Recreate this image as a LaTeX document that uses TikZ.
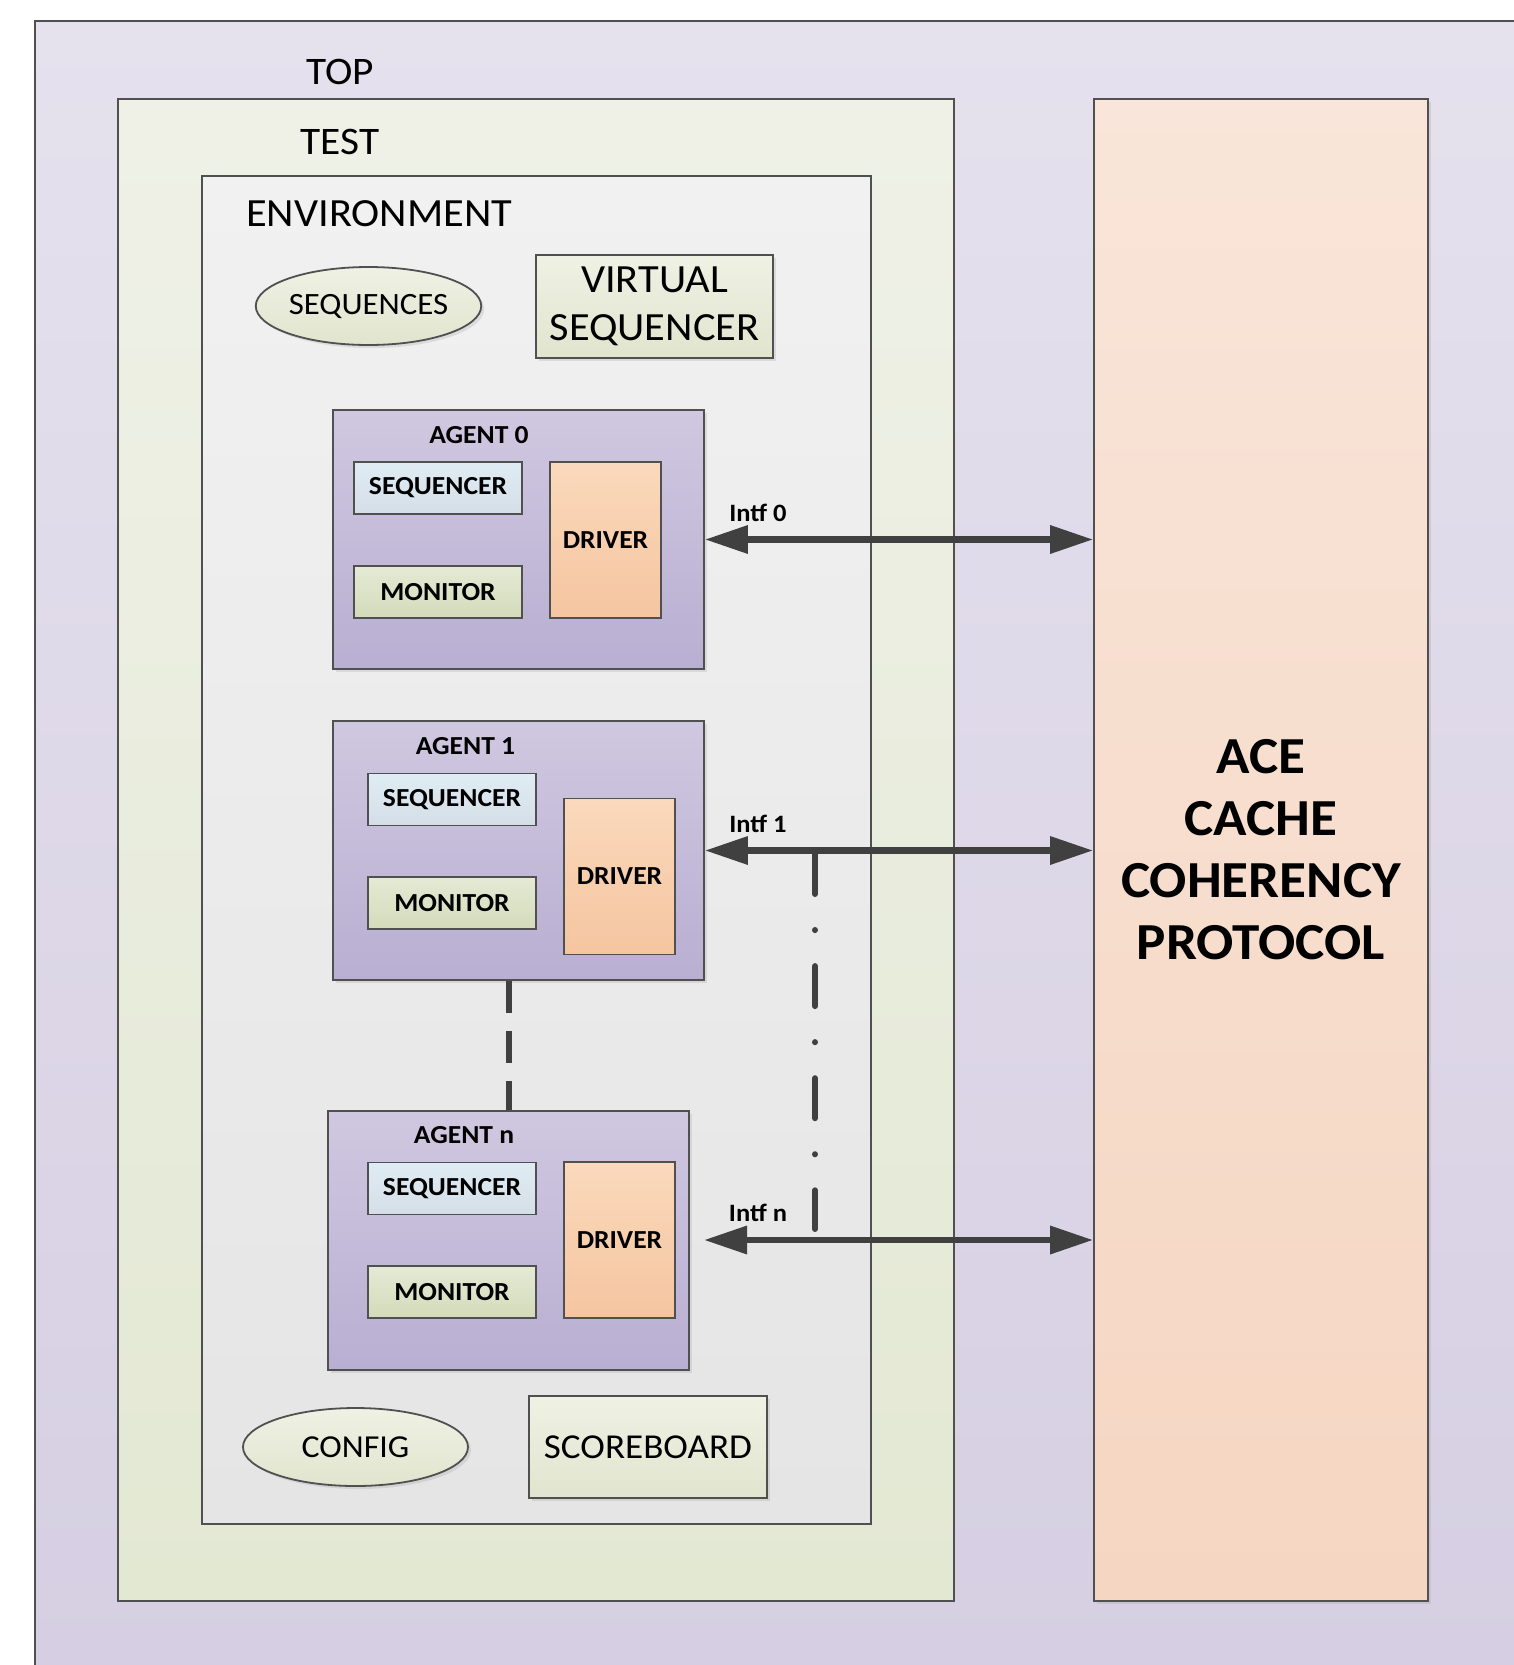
\documentclass[tikz,border=0pt]{standalone}
\usepackage{fontspec}
\setmainfont{Carlito}[FakeStretch=1.06]
\usetikzlibrary{arrows.meta,shadows,shapes.geometric}
\definecolor{bordc}{HTML}{505050}
\definecolor{arrc}{HTML}{404040}
\definecolor{outT}{HTML}{E5E1ED}
\definecolor{outB}{HTML}{D6CFE3}
\definecolor{testT}{HTML}{EFF1E7}
\definecolor{testB}{HTML}{E3E8D3}
\definecolor{envT}{HTML}{F1F1F1}
\definecolor{envB}{HTML}{E5E5E5}
\definecolor{agT}{HTML}{D0C8E0}
\definecolor{agB}{HTML}{B8AFD2}
\definecolor{seqT}{HTML}{E0ECF4}
\definecolor{seqB}{HTML}{D4DEE6}
\definecolor{monT}{HTML}{E4EAD4}
\definecolor{monB}{HTML}{D3DBBA}
\definecolor{drvT}{HTML}{FAD9BC}
\definecolor{drvB}{HTML}{F5C5A0}
\definecolor{aceT}{HTML}{F9E5D9}
\definecolor{aceB}{HTML}{F5D6C2}
\definecolor{grnT}{HTML}{EFF1E4}
\definecolor{grnB}{HTML}{E1E5CE}
\newcommand\fsz[2]{\fontsize{#1}{#2}\selectfont}
\begin{document}
\begin{tikzpicture}[x=1pt,y=-1pt,
  bx/.style={draw=bordc, line width=1.8pt, inner sep=0pt, align=center},
  shd/.style={drop shadow={shadow xshift=3pt, shadow yshift=-3pt, opacity=0.18}},
  testbox/.style={bx, top color=testT, bottom color=testB},
  envbox/.style={bx, top color=envT, bottom color=envB},
  agentbox/.style={bx, shd, top color=agT, bottom color=agB, minimum width=371pt, minimum height=259pt},
  seqbox/.style={bx, top color=seqT, bottom color=seqB, minimum width=168pt, minimum height=52pt, font=\fsz{26}{30}\bfseries},
  monbox/.style={bx, top color=monT, bottom color=monB, minimum width=168pt, minimum height=52pt, font=\fsz{26}{30}\bfseries},
  drvbox/.style={bx, top color=drvT, bottom color=drvB, minimum width=111pt, minimum height=156pt, font=\fsz{26}{30}\bfseries},
  grnbox/.style={bx, shd, top color=grnT, bottom color=grnB},
  oval/.style={bx, shd, ellipse, top color=grnT, bottom color=grnB},
  lbl/.style={inner sep=0pt, text=black},
  aglbl/.style={inner sep=0pt, font=\fsz{26}{30}\bfseries},
  intf/.style={inner sep=0pt, font=\fsz{25}{30}\bfseries},
  biarrow/.style={draw=arrc, line width=6.5pt, {Triangle[length=43pt,width=27pt]}-{Triangle[length=43pt,width=27pt]}},
  dashline/.style={draw=arrc, line width=6pt, dash pattern=on 32pt off 18pt},
  ddline/.style={draw=arrc, line width=6pt, line cap=round, dash pattern=on 40pt off 36pt on 0.1pt off 36pt}
]
\useasboundingbox (0,0) rectangle (1514,1665);
\fill[white] (0,0) rectangle (1514,1665);
% outer TOP background
\path[top color=outT, bottom color=outB] (35,21) rectangle (1514,1665);
\draw[bordc, line width=1.8pt] (35,1665) -- (35,21) -- (1514,21);

% TEST and ENVIRONMENT
\node[testbox, minimum width=836pt, minimum height=1502pt] (test) at (536,850) {};
\node[envbox, minimum width=669pt, minimum height=1348pt] (env) at (536.5,850) {};
\node[lbl, font=\fsz{39}{47}] (toplbl) at (340,72) {TOP};
\node[lbl, font=\fsz{39}{47}] (testlbl) at (340,142) {TEST};
\node[lbl, anchor=west, font=\fsz{40}{48}] (envlbl) at (246,214) {ENVIRONMENT};

% sequences / virtual sequencer
\node[oval, minimum width=223pt, minimum height=78pt, font=\fsz{31}{36}] (seqs) at (368.5,306) {SEQUENCES};
\node[grnbox, minimum width=237pt, minimum height=103pt, font=\fsz{40}{48}] (vseq) at (654.5,306.5) {VIRTUAL\\SEQUENCER};

% AGENT 0
\node[agentbox] (agent0) at (518.5,539.5) {};
\node[aglbl] (ag0lbl) at (479,435) {AGENT 0};
\node[seqbox] (seq0) at (438,488) {SEQUENCER};
\node[monbox] (mon0) at (438,592) {MONITOR};
\node[drvbox] (drv0) at (605.5,540) {DRIVER};

% AGENT 1
\node[agentbox] (agent1) at (518.5,850.5) {};
\node[aglbl] (ag1lbl) at (465.5,746) {AGENT 1};
\node[seqbox] (seq1) at (452,799.5) {SEQUENCER};
\node[monbox] (mon1) at (452,903) {MONITOR};
\node[drvbox] (drv1) at (619.5,876.5) {DRIVER};

% AGENT n
\node[agentbox, minimum width=361pt] (agentn) at (508.5,1240.5) {};
\node[aglbl] (agnlbl) at (464,1135) {AGENT n};
\node[seqbox] (seqn) at (452,1188.5) {SEQUENCER};
\node[monbox] (monn) at (452,1292) {MONITOR};
\node[drvbox] (drvn) at (619.5,1240) {DRIVER};

% config / scoreboard
\node[oval, minimum width=225pt, minimum height=78pt, font=\fsz{32}{38}] (config) at (355.5,1447) {CONFIG};
\node[grnbox, minimum width=238pt, minimum height=102pt, font=\fsz{35}{42}] (score) at (648,1447) {SCOREBOARD};

% ACE protocol block
\node[bx, shd, top color=aceT, bottom color=aceB, minimum width=334pt, minimum height=1502pt,
      font=\fsz{52}{62}\bfseries] (ace) at (1261,850) {ACE\\CACHE\\COHERENCY\\PROTOCOL};

% interface arrows
\coordinate (intfn) at (704,1240);
\draw[biarrow] (agent0.east) -- (ace.west |- agent0.east);
\draw[biarrow] (agent1.east) -- (ace.west |- agent1.east);
\draw[biarrow] (intfn) -- (ace.west |- intfn);
\node[intf] (l0) at (758,513) {Intf 0};
\node[intf] (l1) at (758,824) {Intf 1};
\node[intf] (ln) at (758,1213) {Intf n};

% continuation lines
\draw[dashline] (agent1.south -| agentn.north) -- (agentn.north);
\coordinate (ddtop) at (815,854);
\coordinate (ddbot) at (815,1229);
\draw[ddline] (ddtop) -- (ddbot);
\end{tikzpicture}
\end{document}
